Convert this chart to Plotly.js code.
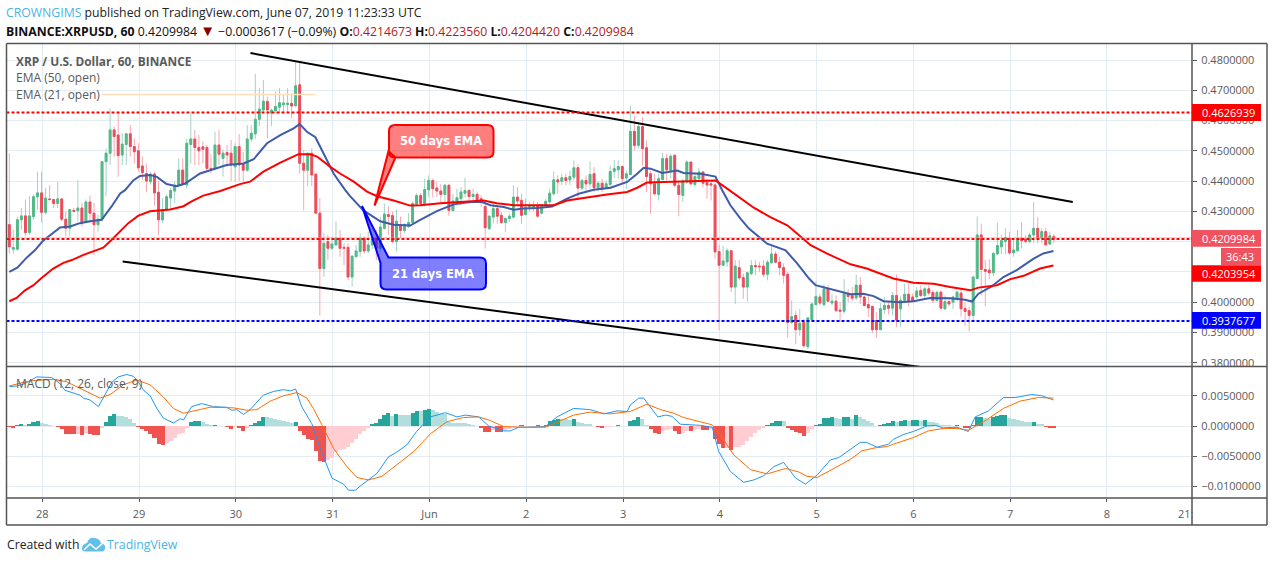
<!DOCTYPE html>
<html>
<head>
<meta charset="utf-8">
<script src="https://cdn.plot.ly/plotly-3.0.1.min.js"></script>
<style>html,body{margin:0;padding:0;background:#fff;overflow:hidden}#c{width:1274px;height:562px}</style>
</head>
<body>
<div id="c"></div>
<script>
// Hourly candles of XRP/USD, first candle 27 May 16:00, last 7 June 11:00
const opens=[.4256,.4175,.4175,.4272,.4285,.4230,.4283,.4348,.4361,.4297,.4341,.4339,.4326,.4341,.4274,.4244,.4303,.4302,.4311,.4263,.4331,.4294,.4256,.4274,.4464,.4492,.4569,.4552,.4486,.4521,.4556,.4514,.4500,.4450,.4425,.4398,.4423,.4363,.4272,.4306,.4344,.4367,.4386,.4436,.4387,.4521,.4539,.4511,.4513,.4511,.4442,.4442,.4519,.4475,.4494,.4492,.4447,.4514,.4458,.4436,.4539,.4556,.4604,.4635,.4663,.4625,.4633,.4644,.4652,.4653,.4657,.4649,.4718,.4459,.4436,.4492,.4423,.4294,.4111,.4200,.4178,.4189,.4211,.4181,.4181,.4083,.4150,.4167,.4211,.4169,.4189,.4211,.4178,.4244,.4289,.4286,.4200,.4252,.4237,.4250,.4263,.4322,.4352,.4325,.4371,.4402,.4377,.4367,.4356,.4386,.4303,.4331,.4342,.4360,.4369,.4349,.4356,.4342,.4316,.4243,.4281,.4309,.4287,.4263,.4276,.4281,.4347,.4336,.4289,.4314,.4312,.4320,.4294,.4320,.4331,.4358,.4404,.4399,.4411,.4404,.4413,.4444,.4377,.4402,.4391,.4424,.4378,.4393,.4378,.4389,.4432,.4437,.4448,.4410,.4422,.4564,.4518,.4580,.4510,.4424,.4391,.4356,.4405,.4474,.4435,.4485,.4386,.4353,.4397,.4463,.4389,.4408,.4430,.4396,.4391,.4387,.4167,.4122,.4133,.4170,.4050,.4114,.4081,.4050,.4094,.4121,.4119,.4119,.4092,.4130,.4159,.4132,.4114,.4092,.3933,.3956,.3909,.3933,.3853,.3942,.3992,.4017,.3992,.4044,.3997,.4003,.3974,.3970,.4028,.4022,.4014,.4056,.4017,.3992,.3986,.3939,.3909,.3976,.3989,.3980,.4022,.3978,.4006,.4026,.4017,.4017,.4039,.4022,.4044,.4032,.4006,.4033,.3978,.4002,.4000,.4011,.4030,.3979,.3972,.3956,.4078,.4222,.4108,.4106,.4097,.4159,.4183,.4200,.4211,.4163,.4170,.4211,.4208,.4200,.4222,.4244,.4211,.4233,.4192,.4217];
const highs=[.4492,.4240,.4283,.4311,.4339,.4350,.4356,.4431,.4431,.4378,.4386,.4340,.4398,.4344,.4300,.4308,.4311,.4403,.4328,.4339,.4352,.4328,.4289,.4466,.4508,.4641,.4580,.4624,.4558,.4556,.4585,.4541,.4525,.4481,.4458,.4431,.4431,.4400,.4344,.4356,.4378,.4400,.4475,.4475,.4541,.4624,.4569,.4552,.4530,.4519,.4489,.4563,.4569,.4505,.4519,.4536,.4525,.4556,.4497,.4585,.4585,.4754,.4707,.4734,.4679,.4640,.4696,.4707,.4685,.4707,.4690,.4795,.4795,.4503,.4492,.4508,.4423,.4344,.4228,.4222,.4217,.4267,.4239,.4194,.4194,.4152,.4189,.4228,.4217,.4233,.4225,.4239,.4283,.4326,.4317,.4300,.4306,.4283,.4261,.4294,.4333,.4361,.4361,.4408,.4419,.4408,.4398,.4391,.4391,.4391,.4358,.4375,.4380,.4411,.4375,.4375,.4364,.4353,.4331,.4287,.4325,.4320,.4298,.4281,.4292,.4386,.4380,.4358,.4342,.4331,.4335,.4331,.4325,.4342,.4375,.4432,.4419,.4424,.4424,.4435,.4468,.4455,.4408,.4419,.4465,.4446,.4400,.4408,.4402,.4452,.4470,.4468,.4452,.4435,.4650,.4616,.4595,.4611,.4534,.4435,.4424,.4424,.4493,.4490,.4490,.4490,.4397,.4408,.4468,.4463,.4430,.4444,.4432,.4408,.4402,.4395,.4189,.4186,.4178,.4170,.4139,.4139,.4094,.4100,.4139,.4139,.4133,.4139,.4139,.4183,.4167,.4150,.4128,.4100,.4006,.3972,.3978,.3944,.3950,.4000,.4069,.4028,.4059,.4056,.4026,.4022,.4000,.4076,.4044,.4050,.4091,.4083,.4022,.4022,.3986,.3967,.3997,.4017,.4003,.4033,.4091,.4022,.4061,.4059,.4028,.4050,.4056,.4052,.4056,.4039,.4039,.4039,.4022,.4017,.4022,.4039,.4044,.4000,.3986,.4086,.4283,.4259,.4139,.4142,.4167,.4263,.4222,.4244,.4233,.4206,.4239,.4263,.4222,.4230,.4330,.4281,.4244,.4244,.4233,.4226];
const lows=[.4160,.4160,.4170,.4239,.4219,.4222,.4272,.4306,.4263,.4289,.4335,.4311,.4311,.4267,.4217,.4217,.4297,.4267,.4250,.4261,.4261,.4156,.4233,.4267,.4350,.4453,.4481,.4414,.4453,.4453,.4481,.4458,.4431,.4403,.4363,.4388,.4319,.4222,.4261,.4300,.4306,.4328,.4380,.4385,.4375,.4458,.4453,.4453,.4458,.4436,.4425,.4436,.4453,.4415,.4447,.4400,.4397,.4400,.4397,.4431,.4530,.4539,.4581,.4624,.4541,.4581,.4624,.4625,.4624,.4625,.4608,.4645,.4425,.4303,.4383,.4383,.4290,.3956,.4083,.4139,.4172,.4189,.4150,.4122,.4072,.4052,.4150,.4150,.4161,.4161,.4175,.4139,.4167,.4239,.4222,.4194,.4167,.4211,.4228,.4244,.4261,.4317,.4322,.4315,.4347,.4347,.4348,.4325,.4325,.4284,.4298,.4320,.4320,.4347,.4325,.4336,.4331,.4314,.4177,.4237,.4259,.4259,.4259,.4232,.4265,.4276,.4320,.4259,.4287,.4300,.4300,.4281,.4290,.4320,.4325,.4353,.4358,.4386,.4386,.4386,.4402,.4342,.4369,.4369,.4375,.4364,.4369,.4364,.4375,.4380,.4411,.4408,.4391,.4375,.4419,.4501,.4507,.4452,.4364,.4292,.4353,.4336,.4402,.4402,.4408,.4380,.4284,.4331,.4391,.4386,.4380,.4402,.4378,.4342,.4336,.4144,.3907,.4122,.4117,.4033,.3994,.4072,.4011,.4003,.4089,.4089,.4100,.4083,.4072,.4128,.4128,.4089,.4061,.3883,.3928,.3861,.3889,.3850,.3844,.3939,.3989,.3989,.3986,.4000,.3989,.3967,.3933,.3961,.4000,.4003,.4006,.3994,.3986,.3950,.3897,.3881,.3909,.3961,.3959,.3956,.3917,.3917,.4000,.3986,.4000,.4011,.4017,.4014,.4022,.3997,.4003,.3978,.3974,.3986,.3978,.4003,.3952,.3922,.3903,.3941,.4078,.4022,.3986,.4076,.4086,.4156,.4159,.4159,.4156,.4150,.4167,.4178,.4194,.4194,.4194,.4194,.4194,.4189,.4189,.4195];
const closes=[.4183,.4180,.4272,.4285,.4230,.4285,.4348,.4361,.4297,.4344,.4339,.4326,.4341,.4274,.4244,.4306,.4300,.4311,.4261,.4331,.4294,.4256,.4274,.4464,.4492,.4569,.4547,.4484,.4522,.4556,.4514,.4497,.4444,.4428,.4400,.4423,.4361,.4272,.4306,.4348,.4369,.4386,.4436,.4389,.4525,.4539,.4511,.4500,.4505,.4442,.4439,.4519,.4489,.4492,.4486,.4453,.4514,.4453,.4436,.4539,.4558,.4604,.4638,.4664,.4635,.4634,.4646,.4659,.4658,.4657,.4648,.4715,.4459,.4436,.4492,.4420,.4294,.4111,.4194,.4178,.4192,.4211,.4178,.4178,.4083,.4152,.4169,.4211,.4169,.4189,.4208,.4178,.4248,.4291,.4283,.4200,.4267,.4237,.4256,.4263,.4326,.4352,.4326,.4372,.4402,.4375,.4367,.4356,.4386,.4303,.4334,.4345,.4364,.4369,.4349,.4356,.4338,.4331,.4246,.4284,.4309,.4284,.4263,.4276,.4284,.4347,.4334,.4287,.4314,.4316,.4320,.4284,.4322,.4333,.4360,.4404,.4397,.4411,.4402,.4415,.4444,.4377,.4402,.4391,.4422,.4378,.4393,.4378,.4391,.4432,.4441,.4448,.4408,.4424,.4564,.4518,.4580,.4507,.4415,.4391,.4358,.4408,.4474,.4437,.4482,.4386,.4356,.4400,.4463,.4391,.4415,.4430,.4393,.4387,.4387,.4166,.4122,.4136,.4170,.4050,.4119,.4080,.4050,.4097,.4121,.4117,.4117,.4092,.4132,.4159,.4132,.4114,.4089,.3933,.3952,.3909,.3930,.3856,.3948,.3994,.4019,.3997,.4044,.4003,.4003,.3972,.3970,.4028,.4019,.4013,.4056,.4017,.3989,.3981,.3909,.3909,.3978,.3989,.3980,.4022,.3941,.4006,.4026,.4003,.4003,.4037,.4022,.4044,.4030,.4006,.4032,.3980,.4002,.3994,.4017,.4033,.3978,.3969,.3956,.4083,.4222,.4108,.4102,.4097,.4161,.4187,.4203,.4214,.4163,.4172,.4211,.4203,.4200,.4222,.4244,.4211,.4233,.4189,.4219,.4210];

const ema21Hours=[0,2,4.3,6.4,8.3,10.1,12.6,15.1,17.5,20,22.9,25.4,27.5,28.7,30.8,32.4,34.9,36.6,39,41.5,43.6,47.3,51.5,53.9,58.1,60.6,63.9,67.2,70.5,72,73.8,75.9,77.9,80.4,83.3,84.5,87.8,92,95.3,99.4,101.9,106,110.2,114.3,117.2,119.3,122.6,125.1,127.5,130.9,134.6,138.3,141.2,144.9,149.1,153.2,155.7,157.3,159,161.9,165.6,167.2,171.4,175.1,176.8,178.8,181.3,183.4,187.9,192.5,195.4,198.3,199.9,204.5,208.6,211.8,214.3,216.8,220.9,224.2,228.3,233.3,237,238.7,240.3,243.6,246.5,249.8,254,256.4,258.9];
const ema21=[.41,.4114,.4147,.4172,.4202,.4222,.4247,.425,.4261,.4267,.4272,.4317,.4359,.437,.4403,.4417,.442,.4414,.439,.4383,.4392,.4425,.4442,.4453,.4458,.4472,.4525,.4552,.4574,.4588,.4563,.4545,.4492,.4425,.437,.435,.4303,.4267,.4256,.4253,.4272,.4301,.4323,.4331,.4331,.432,.4314,.4305,.4309,.4311,.4316,.4342,.4358,.4371,.4378,.4397,.4424,.4444,.4441,.4427,.4435,.4427,.4424,.4415,.4369,.432,.4276,.4243,.4193,.4171,.4127,.4078,.4056,.4039,.4026,.4028,.402,.4003,.40,.4003,.4014,.4013,.4008,.4002,.4028,.4052,.4083,.4106,.4144,.4161,.4169];
const ema50Hours=[0,1.8,3.9,6,8,10.9,13.4,15.5,18.4,20.9,23.3,25.4,27.5,29.5,32,34.9,39.9,43.2,45.2,48.1,52.3,57.2,59.7,63,67.2,70.5,71.7,74.6,76.3,79.6,82,85.4,88.7,91.2,95.3,99.4,101.9,106.9,111.8,117.6,120.9,125.1,130,135,138.3,143.3,148.2,153.2,155.7,158.1,162.3,168,175.1,178,181.3,184.6,188.7,192.9,195.4,198.7,202.8,208.6,212.6,216.8,219.2,224.2,229.2,233.3,238.3,240.3,244.9,248.2,251.5,255.6,258.9];
const ema50=[.4003,.4014,.4039,.4056,.408,.4111,.413,.4139,.4156,.4167,.418,.4206,.4233,.4261,.4286,.43,.4306,.4317,.4333,.4352,.4367,.439,.4398,.4431,.4461,.4481,.4489,.4489,.4481,.4447,.4425,.4398,.4365,.435,.4336,.4319,.432,.4327,.4331,.4336,.4327,.432,.432,.432,.4336,.4347,.4356,.4364,.4378,.4395,.4397,.44,.4402,.4375,.4342,.4312,.4281,.4254,.4226,.4188,.416,.4125,.4111,.4089,.4078,.4064,.4061,.405,.4039,.4048,.4056,.4076,.4087,.4111,.4121];

const macdHist=[-.0001,-.00027,.0001,.00027,.00016,.00027,.00066,.00082,.00049,.00038,.00016,0,-.00016,-.00055,-.00126,-.00126,-.00132,-.00126,-.00148,-.0012,-.00126,-.00148,-.00148,-.00027,.00066,.00165,.00198,.00165,.00159,.00148,.0012,.00055,-.0001,-.00044,-.00082,-.00137,-.00192,-.00302,-.00313,-.00286,-.00247,-.00192,-.00137,-.0012,-.00027,.00066,.00082,.00083,.00071,.00027,.0001,.00016,.00005,0,-.0001,-.00044,-.00016,-.00027,-.00082,-.00027,.0001,.00055,.00082,.00148,.00147,.00126,.0011,.00099,.00082,.00066,.00049,.00066,-.00082,-.00154,-.00209,-.00236,-.00412,-.00577,-.00588,-.00566,-.00522,-.00423,-.00396,-.00374,-.00341,-.00286,-.00209,-.00132,-.00082,-.00027,.00033,.00044,.0011,.00181,.00209,.00165,.00198,.00176,.00176,.00175,.0022,.00247,.00246,.00264,.00275,.00264,.00231,.00192,.0019,.00066,.00055,.00049,.00044,.00044,.00027,.00016,0,-.00033,-.00099,-.00099,-.00066,-.00099,-.00099,-.00071,-.00044,-.00022,-.0002,.00016,.00005,0,.00005,.0001,0,.00016,.00082,.00099,.00115,.0011,.00109,.00093,.00115,.00071,.00055,.00038,.00027,0,-.0001,-.00027,-.00022,-.0001,0,.00016,0,0,.00082,.00093,.00148,.00115,.00016,-.00055,-.0012,-.00137,-.00082,-.00066,-.00055,-.00082,-.00137,-.0011,-.00077,-.00082,-.00066,-.00055,-.00066,-.00067,-.00055,-.00209,-.00302,-.00363,-.00362,-.00396,-.00341,-.0034,-.00319,-.00247,-.00176,-.0012,-.00071,-.00027,.0001,.00049,.00082,.00083,.00082,-.00033,-.00071,-.00099,-.0012,-.00165,-.0011,-.00044,.00016,.00033,.00132,.00137,.00148,.00126,.0011,.00148,.00149,.0011,.00176,.00154,.0012,.00082,.00044,0,.0001,.00027,.00044,.00077,.00066,.00082,.00093,.00077,.00093,.00094,.00082,.00093,.00071,.00066,.00049,.00016,.00011,.0001,.00005,.00016,0,-.00027,-.00038,.0001,.00143,.00148,.00132,.0012,.00154,.00165,.00176,.00177,.00137,.0011,.00093,.00077,.00066,.0006,.00066,.00038,.00033,-.00016,-.00027,-.00028];
const macdHours=[0,1.8,3.9,6.8,10.5,12.6,13.8,17.5,18.4,20,22.1,24.2,25.4,27,29.1,30.8,32,33.3,34.9,36.6,38.2,40.7,42.4,43.2,45.2,47.7,50.6,53.9,55.2,56.4,58.1,59.7,63,65.5,68,69.7,71,72.5,75,77.1,80,82.9,84.1,85.8,87.4,91.2,94,96.1,98.6,101,104.4,108.1,111,113.1,116.4,118.9,122.6,124.2,126.3,128.4,132.9,135.8,139.9,144.1,147.4,150.7,153.2,154,156.1,157.3,160.8,162.7,164.3,166.4,168.9,171.4,174.3,175.9,178.8,182.1,184.6,187.1,189.6,192,195,197.4,200.3,203.6,205.7,208.6,211,212.6,215.1,218,219.2,221.7,224.2,227.5,229.6,231.6,235,237.8,239.5,242.8,246.5,249.4,253.5,256,258.9];
const macdLine=[.0065,.0066,.007,.0081,.008,.007,.0059,.0051,.0046,.0043,.0032,.0057,.0072,.0081,.0085,.0082,.0073,.0059,.005,.0029,.0013,.0005,.0012,.001,.0032,.0037,.0032,.0031,.0026,.0027,.0019,.0027,.0051,.0057,.006,.0058,.0061,.0032,.0004,-.0037,-.0086,-.0096,-.0106,-.0106,-.0097,-.0078,-.0051,-.0043,-.0031,-.0009,.0015,.0022,.0015,.0018,.0015,0,-.0008,-.0008,-.0002,-.0002,-.0001,.0015,.0029,.0027,.002,.0025,.0024,.0035,.0046,.0046,.0015,.0018,.0016,.0003,.0002,.0001,-.0002,-.0042,-.0075,-.0093,-.0089,-.0082,-.0067,-.006,-.0086,-.0096,-.0081,-.0056,-.0052,-.0038,-.0027,-.0027,-.0035,-.003,-.0022,-.0014,-.0009,0,.0001,-.0003,-.0002,-.0009,.0015,.0025,.0047,.0047,.0052,.005,.0043];
const signalHours=[0,3.5,6,10.9,14.2,18.4,22.5,25,28.3,31.6,34.9,38.2,40.7,43.2,46.5,49.8,55.6,58.9,61.4,64.7,68,71.3,73.8,75.4,77.5,80.4,83.7,86.2,89.1,92.4,96.1,100.3,104.4,108.5,112.6,116.4,119.3,122.6,126.7,132.9,135.8,139.9,144.1,149,154,158.1,161.5,164.8,167.2,170.6,174.3,176.3,179.7,183.8,187.9,192.5,195.8,197.8,200.3,204.5,208.6,211.4,214.7,217.6,219.2,224.2,227.9,231.6,235,237.8,241.6,246.5,250.6,255.2,258.9];
const signalLine=[.0066,.0072,.0075,.0077,.0073,.0059,.0046,.0052,.0068,.0076,.0068,.0048,.0029,.0021,.0026,.0031,.003,.0026,.0027,.0041,.005,.0055,.0046,.0029,.0002,-.0037,-.0067,-.0085,-.0089,-.0083,-.0064,-.0042,-.0013,.0007,.0014,.0015,.0009,-.0001,-.0002,-.0002,.0006,.0018,.0023,.002,.0024,.0036,.0027,.0021,.0014,.0008,.0002,-.0015,-.0048,-.0072,-.0079,-.007,-.0076,-.0083,-.0085,-.007,-.0055,-.0041,-.0036,-.0034,-.003,-.0019,-.0008,-.0004,-.0004,-.0007,.0007,.0029,.0041,.0047,.0046];

const upperTrendHours=[59.8,263.7], upperTrendPrices=[.4823,.4331];
const lowerTrendHours=[28.1,226.9], lowerTrendPrices=[.41345,.37840];
const peachHours=[23,76], peachPrices=[.4686,.4686];
const resistance=.4626939, support=.3937677, lastPrice=.4209984, ema50Last=.4203954;

const tickHours=[8,32,56,80,104,128,152,176,200,224,248,272];
const tickLabels=['28','29','30','31','Jun','2','3','4','5','6','7','8'];
const priceTicks=[.38,.39,.40,.41,.42,.43,.44,.45,.46,.47,.48];
const macdTicks=[.005,0,-.005,-.01];

const W=1274,H=562;
const px=x=>x/W, py=y=>1-y/H;
const hours=opens.map((_,i)=>i);
const GRID='#e2ecf2', AXIS='#555555', TXT='#5a5a5a';
const FONT='"Open Sans",sans-serif';

const wickUp='#a3d3c4', wickDn='#f6a8b1', bodyUp='#53b987', bodyDn='#eb4d5c';
const bodyHigh=opens.map((o,i)=>Math.max(o,closes[i]));
const bodyLow=opens.map((o,i)=>Math.min(o,closes[i]));

// histogram shades follow the direction of each bar
let prevCol='#26a69a';
const histColors=macdHist.map((v,i)=>{
  const p=i?macdHist[i-1]:0;
  let c;
  if(v===p) c=prevCol;
  else if(v>=0) c=v>p?'#26a69a':'#b2dfdb';
  else c=v<p?'#ef5350':'#ffcdd2';
  prevCol=c; return c;
});

const traces=[
 {type:'candlestick',x:hours,open:opens,high:highs,low:lows,close:closes,xaxis:'x',yaxis:'y',
  increasing:{line:{color:wickUp,width:1},fillcolor:wickUp},decreasing:{line:{color:wickDn,width:1},fillcolor:wickDn},hoverinfo:'skip'},
 {type:'candlestick',x:hours,open:opens,high:bodyHigh,low:bodyLow,close:closes,xaxis:'x',yaxis:'y',
  increasing:{line:{color:bodyUp,width:1},fillcolor:bodyUp},decreasing:{line:{color:bodyDn,width:1},fillcolor:bodyDn},hoverinfo:'skip'},
 {type:'scatter',mode:'lines',x:peachHours,y:peachPrices,line:{color:'#ffe0b8',width:1.5},xaxis:'x',yaxis:'y'},
 {type:'scatter',mode:'lines',x:ema21Hours,y:ema21,line:{color:'#3f5bab',width:2},xaxis:'x',yaxis:'y'},
 {type:'scatter',mode:'lines',x:ema50Hours,y:ema50,line:{color:'#ff0000',width:2},xaxis:'x',yaxis:'y'},
 {type:'scatter',mode:'lines',x:upperTrendHours,y:upperTrendPrices,line:{color:'#000',width:2},xaxis:'x',yaxis:'y'},
 {type:'scatter',mode:'lines',x:lowerTrendHours,y:lowerTrendPrices,line:{color:'#000',width:2},xaxis:'x',yaxis:'y'},
 {type:'bar',x:hours,y:macdHist,width:1,marker:{color:histColors,line:{width:0}},xaxis:'x',yaxis:'y2'},
 {type:'scatter',mode:'lines',x:macdHours,y:macdLine,line:{color:'#2196f3',width:1},xaxis:'x',yaxis:'y2'},
 {type:'scatter',mode:'lines',x:signalHours,y:signalLine,line:{color:'#ff6d00',width:1},xaxis:'x',yaxis:'y2'}
];

function roundedCallout(l,t,r,b,pts){ // pointer leaves the box on its left side
  const c=6;
  return `M ${px(l+c)} ${py(t)} L ${px(r-c)} ${py(t)}`+
    ` Q ${px(r)} ${py(t)} ${px(r)} ${py(t+c)} L ${px(r)} ${py(b-c)} Q ${px(r)} ${py(b)} ${px(r-c)} ${py(b)} L ${px(l+c)} ${py(b)} Q ${px(l)} ${py(b)} ${px(l)} ${py(b-c)} `+
    pts.map(p=>'L '+px(p[0])+' '+py(p[1])).join(' ')+
    ` L ${px(l)} ${py(t+c)} Q ${px(l)} ${py(t)} ${px(l+c)} ${py(t)} Z`;
}
const rectShape=(x0,y0,x1,y1,fill)=>({type:'rect',xref:'paper',yref:'paper',x0:px(x0),x1:px(x1),y0:py(y0),y1:py(y1),fillcolor:fill,line:{width:0}});
const lineShape=(x0,y0,x1,y1)=>({type:'line',xref:'paper',yref:'paper',x0:px(x0),x1:px(x1),y0:py(y0),y1:py(y1),line:{color:AXIS,width:1.5}});
const level=(v,col,w,dash)=>({type:'line',xref:'paper',yref:'y',x0:px(6.5),x1:px(1192),y0:v,y1:v,line:{color:col,width:w,dash:dash}});

const shapes=[
 level(resistance,'#ff0000',2,'3px,2px'),
 level(lastPrice-.00012,'#ff0000',2,'3px,2px'),
 level(lastPrice+.00030,'#f58a94',1,'1px,1px'),
 level(support,'#0000ff',2,'3px,2px'),
 {type:'path',xref:'paper',yref:'paper',path:roundedCallout(389,125,493.5,157.5,[[395.5,157.5],[374.5,205.5],[389,149]]),fillcolor:'rgba(255,0,0,0.5)',line:{color:'#ff0000',width:2}},
 {type:'path',xref:'paper',yref:'paper',
  path:`M ${px(380.5)} ${py(263)} L ${px(362)} ${py(206)} L ${px(388.5)} ${py(257.5)} L ${px(480)} ${py(257.5)} Q ${px(486)} ${py(257.5)} ${px(486)} ${py(263.5)} L ${px(486)} ${py(283.5)} Q ${px(486)} ${py(289.5)} ${px(480)} ${py(289.5)} L ${px(386.5)} ${py(289.5)} Q ${px(380.5)} ${py(289.5)} ${px(380.5)} ${py(283.5)} Z`,
  fillcolor:'rgba(0,0,255,0.5)',line:{color:'#0000ff',width:2}},
 lineShape(6.5,43.5,1267,43.5),lineShape(6.5,525,1267,525),lineShape(6.5,43.5,6.5,525),lineShape(1267,43.5,1267,525),
 lineShape(1192,43.5,1192,525),lineShape(6.5,366.5,1267,366.5),lineShape(6.5,498,1267,498),
 rectShape(1192,104,1261,121,'#ff0000'),
 rectShape(1192,230,1261,246.7,'#ef5360'),
 rectShape(1221,248,1261,265,'#ef5360'),
 rectShape(1192,265.3,1261,281.7,'#ff0000'),
 rectShape(1192,312,1261,328.7,'#0000ff'),
 {type:'path',xref:'paper',yref:'paper',fillcolor:'#62c0e8',line:{width:0},
  path:`M ${px(82)} ${py(549)} Q ${px(82)} ${py(544)} ${px(87)} ${py(543)} Q ${px(89)} ${py(537)} ${px(95)} ${py(538)} Q ${px(100)} ${py(539)} ${px(101)} ${py(543)} Q ${px(106)} ${py(544)} ${px(105)} ${py(549)} Q ${px(104)} ${py(551.5)} ${px(102)} ${py(551.5)} L ${px(85)} ${py(551.5)} Q ${px(82)} ${py(551.5)} ${px(82)} ${py(549)} Z`},
 {type:'path',xref:'paper',yref:'paper',line:{color:'#fff',width:1.5},
  path:`M ${px(84)} ${py(550)} L ${px(90)} ${py(544)} L ${px(96)} ${py(549)} L ${px(103)} ${py(543)}`}
];

const lab=(x,y,text,size,color,anchor,extra)=>Object.assign({xref:'paper',yref:'paper',x:px(x),y:py(y),text:text,showarrow:false,xanchor:anchor||'left',yanchor:'middle',
  borderpad:0,font:{family:FONT,size:size,color:color}},extra||{});
const red='#b01c1c';
const annotations=[
 lab(5,12.5,'<span style="color:#49b4e6">CROWNGIMS</span> published on TradingView.com, June 07, 2019 11:23:33 UTC',12.25,'#222'),
 lab(5,29.5,`<b>BINANCE:XRPUSD, 60</b> 0.4209984 <span style="color:#8b0000;font-size:15px">▼</span> −0.0003617 (−0.09%) <b>O:</b><span style="color:${red}">0.4214673</span> <b>H:</b><span style="color:${red}">0.4223560</span> <b>L:</b><span style="color:${red}">0.4204420</span> <b>C:</b><span style="color:${red}">0.4209984</span>`,12.25,'#111'),
 lab(15,60.5,'<b>XRP / U.S. Dollar, 60, BINANCE</b>',11.85,TXT),
 lab(15,77.5,'EMA (50, open)',12,TXT),
 lab(15,94.5,'EMA (21, open)',12,TXT),
 lab(15,383,'MACD (12, 26, close, 9)',12,TXT),
 lab(441,141,'<b>50 days EMA</b>',11.5,'#fff','center',{font:{family:'"DejaVu Sans",sans-serif',size:11.5,color:'#fff'}}),
 lab(433,273.5,'<b>21 days EMA</b>',11.5,'#fff','center',{font:{family:'"DejaVu Sans",sans-serif',size:11.5,color:'#fff'}}),
 lab(1201,112.5,resistance.toFixed(7),11,'#fff'),
 lab(1201,238.5,lastPrice.toFixed(7),11,'#fff'),
 lab(1225,256.5,'36:43',11,'#fff'),
 lab(1201,273.5,ema50Last.toFixed(7),11,'#fff'),
 lab(1201,320.5,support.toFixed(7),11,'#fff'),
 lab(1176.5,513,'21:',11,TXT),
 lab(6,544.5,'Created with',12.2,'#222'),
 lab(106,544.5,'TradingView',12.3,'#49b4e6')
];

const layout={
 width:W,height:H,margin:{l:0,r:0,t:0,b:0,pad:0},paper_bgcolor:'#fff',plot_bgcolor:'#fff',showlegend:false,boxgap:0.36,bargap:0,
 font:{family:FONT,size:11,color:TXT},
 xaxis:{domain:[px(6.5),px(1192)],range:[-0.694,293.26],anchor:'y2',type:'linear',rangeslider:{visible:false},
   tickmode:'array',tickvals:tickHours.map(h=>h+0.18),ticktext:tickLabels,ticks:'outside',ticklen:3,tickcolor:AXIS,ticklabelstandoff:3,
   showgrid:true,gridcolor:GRID,gridwidth:1,zeroline:false,showline:false,tickfont:{family:FONT,size:11,color:TXT}},
 yaxis:{domain:[py(366.5),py(43.5)],range:[.37874,.48545],side:'right',anchor:'x',tickmode:'array',tickvals:priceTicks,tickformat:'.7f',
   ticks:'outside',ticklen:4,tickcolor:AXIS,ticklabelstandoff:2,showgrid:true,gridcolor:GRID,gridwidth:1,zeroline:false,showline:false,tickfont:{family:FONT,size:11,color:TXT}},
 yaxis2:{domain:[py(498),py(366.5)],range:[-.01188,.00982],side:'right',anchor:'x',tickmode:'array',tickvals:macdTicks,tickformat:'.7f',
   ticks:'outside',ticklen:4,tickcolor:AXIS,ticklabelstandoff:2,showgrid:true,gridcolor:GRID,gridwidth:1,zeroline:false,showline:false,tickfont:{family:FONT,size:11,color:TXT}},
 shapes:shapes,annotations:annotations
};
Plotly.newPlot('c',traces,layout,{displayModeBar:false,staticPlot:true});
</script>
</body>
</html>
